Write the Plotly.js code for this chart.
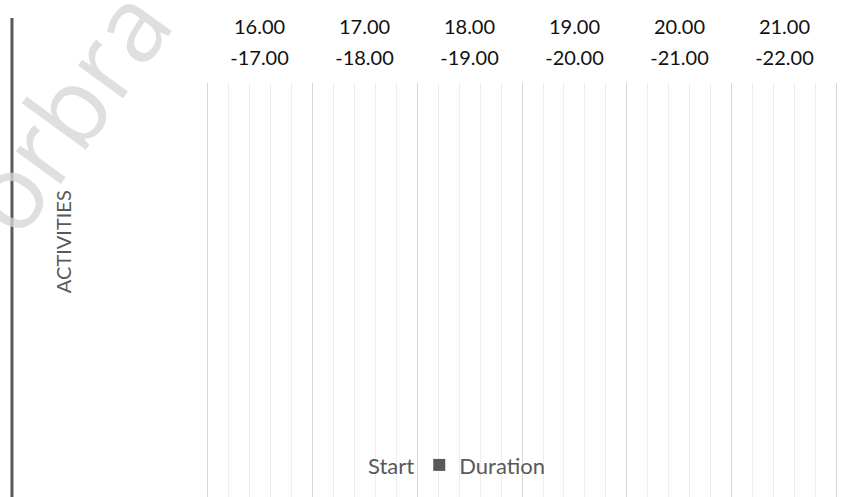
<!DOCTYPE html>
<html>
<head>
<meta charset="utf-8">
<script src="https://cdn.plot.ly/plotly-3.0.1.min.js"></script>
<style>html,body{margin:0;padding:0;background:#fff;}#chart{width:866px;height:497px;}</style>
</head>
<body>
<div id="chart"></div>
<script>
// Data (the chart contains no filled activity rows – empty Gantt template)
const activities = [null];
const startTimes = [null];
const durations = [null];
// Hour slots on the time axis
const hourStarts = [16, 17, 18, 19, 20, 21, 22];
const slotCentres = [16.5, 17.5, 18.5, 19.5, 20.5, 21.5];
const slotLine1 = ["16.00", "17.00", "18.00", "19.00", "20.00", "21.00"];
const slotLine2 = ["-17.00", "-18.00", "-19.00", "-20.00", "-21.00", "-22.00"];
const seriesNames = ["Start", "Duration"];
const yTitle = "ACTIVITIES";
const watermark = "orbra";

const FONT = "Lato, 'Open Sans', sans-serif";
const XR = [15.99, 22.01];

const traces = [
  {type: "bar", orientation: "h", name: seriesNames[0], y: activities, x: startTimes,
   marker: {color: "rgba(0,0,0,0)"}, showlegend: true, hoverinfo: "skip"},
  {type: "bar", orientation: "h", name: seriesNames[1], y: activities, x: durations,
   marker: {color: "#595959"}, showlegend: true},
  {type: "bar", orientation: "h", x: [], y: [], xaxis: "x2", showlegend: false, hoverinfo: "skip"},
  {type: "bar", orientation: "h", x: [], y: [], xaxis: "x3", showlegend: false, hoverinfo: "skip"}
];

const labelAxis = (text, standoff) => ({
  overlaying: "x", side: "top", range: XR, tickmode: "array",
  tickvals: slotCentres, ticktext: text,
  ticks: "", ticklabelstandoff: standoff,
  tickfont: {family: FONT, size: 20, color: "#111111"},
  showgrid: false, zeroline: false, showline: false, fixedrange: true
});

const layout = {
  width: 866, height: 497,
  margin: {l: 206, r: 28, t: 83, b: 0, pad: 0},
  paper_bgcolor: "#ffffff", plot_bgcolor: "#ffffff",
  barmode: "stack",
  showlegend: true,
  font: {family: FONT, color: "#595959"},
  xaxis: {
    side: "top", range: XR, tickmode: "array",
    tickvals: hourStarts, showticklabels: false, ticks: "",
    showgrid: true, gridcolor: "#d6d6d6", gridwidth: 1,
    minor: {tickmode: "linear", tick0: 16, dtick: 0.2, showgrid: true, gridcolor: "#eeeeee", gridwidth: 1, ticks: ""},
    zeroline: false, showline: false, fixedrange: true
  },
  xaxis2: labelAxis(slotLine1, 44),
  xaxis3: labelAxis(slotLine2, 13),
  yaxis: {
    type: "category", autorange: "reversed",
    showticklabels: false, showgrid: false, zeroline: false, showline: false, ticks: "", fixedrange: true
  },
  legend: {
    orientation: "h", x: 0.193, xanchor: "left", y: 0.077, yanchor: "middle",
    bgcolor: "rgba(0,0,0,0)", font: {family: FONT, size: 22, color: "#595959"},
    traceorder: "normal"
  },
  shapes: [
    {type: "line", xref: "paper", yref: "paper", x0: -0.307, x1: -0.307, y0: -0.05, y1: 1.157,
     line: {color: "#595959", width: 3}}
  ],
  annotations: [
    {text: yTitle, xref: "paper", yref: "paper", x: -0.226, y: 0.616, xanchor: "center", yanchor: "middle",
     textangle: -90, showarrow: false, font: {family: FONT, size: 20, color: "#595959"}},
    {text: watermark, xref: "paper", yref: "paper", x: -0.223, y: 0.935, xanchor: "center", yanchor: "middle",
     textangle: -54, showarrow: false, font: {family: "'Open Sans', sans-serif", size: 104, weight: 500, color: "rgba(214,214,214,0.78)"}}
  ]
};

Plotly.newPlot("chart", traces, layout, {displayModeBar: false, staticPlot: true});
</script>
</body>
</html>
